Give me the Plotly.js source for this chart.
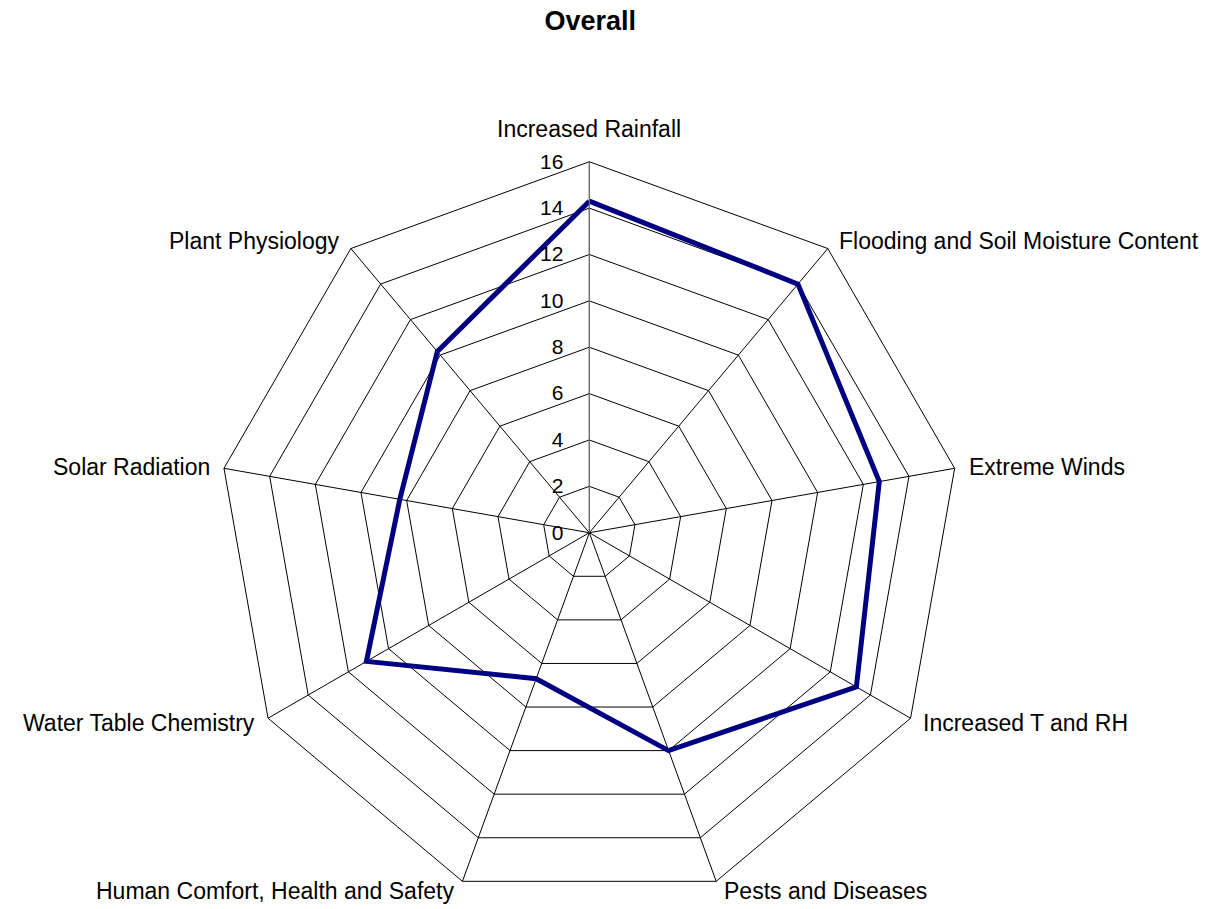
<!DOCTYPE html>
<html>
<head>
<meta charset="utf-8">
<script src="https://cdn.plot.ly/plotly-3.0.1.min.js"></script>
<style>html,body{margin:0;padding:0;background:#fff;}#chart{width:1207px;height:909px;}</style>
</head>
<body>
<div id="chart"></div>
<script>
const categories = ["Increased Rainfall", "Flooding and Soil Moisture Content", "Extreme Winds", "Increased T and RH", "Pests and Diseases", "Human Comfort, Health and Safety", "Water Table Chemistry", "Solar Radiation", "Plant Physiology"];
const overall = [14.3, 14.0, 12.7, 13.3, 10.0, 6.7, 11.1, 8.3, 10.2];
const radialTicks = [0, 2, 4, 6, 8, 10, 12, 14, 16];

const W = 1207, H = 909;
const domX = [0.1809, 0.7956], domY = [0.0058, 0.8221];

const trace = {
  type: 'scatterpolar',
  r: overall.concat([overall[0]]),
  theta: categories.concat([categories[0]]),
  mode: 'lines',
  line: {color: '#000080', width: 5},
  hoverinfo: 'r+theta',
  showlegend: false
};

// Category labels placed just outside the outer polygon vertices (Excel-style)
const cxP = (domX[0] + domX[1]) / 2, cyP = (domY[0] + domY[1]) / 2;
const Rx = (domX[1] - domX[0]) / 2, Ry = (domY[1] - domY[0]) / 2;
const annotations = categories.map((c, i) => {
  const phi = i * 2 * Math.PI / categories.length;
  const s = Math.sin(phi), co = Math.cos(phi);
  const top = Math.abs(s) < 1e-6;
  return {
    text: c, showarrow: false, xref: 'paper', yref: 'paper',
    x: cxP + Rx * s, y: cyP + Ry * co,
    xanchor: top ? 'center' : (s > 0 ? 'left' : 'right'),
    yanchor: top ? 'bottom' : 'middle',
    xshift: top ? 0 : Math.sign(s) * (3 + 9 * Math.abs(s)),
    yshift: top ? 18 : 10 * co,
    font: {size: 23, color: '#000'}
  };
});

const layout = {
  width: W, height: H,
  margin: {l: 0, r: 0, t: 0, b: 0},
  paper_bgcolor: '#fff',
  font: {family: 'Liberation Sans, Arial, sans-serif', size: 22, color: '#000'},
  title: {text: '<b>Overall</b>', x: 0.489, xanchor: 'center', y: 0.977, yanchor: 'middle', font: {size: 27, color: '#000'}},
  annotations: annotations,
  polar: {
    domain: {x: domX, y: domY},
    gridshape: 'linear',
    bgcolor: '#fff',
    radialaxis: {
      range: [0, 16], tickvals: radialTicks, ticktext: radialTicks.map(String),
      angle: 90, tickangle: 90, side: 'counterclockwise', showline: true, linecolor: '#808080', linewidth: 1,
      gridcolor: '#000', gridwidth: 1, ticks: 'outside', ticklen: 18, tickcolor: 'rgba(0,0,0,0)', tickfont: {size: 21}
    },
    angularaxis: {
      direction: 'clockwise', rotation: 90, showline: true, linecolor: '#000', linewidth: 1,
      gridcolor: '#000', gridwidth: 1, ticks: '', showticklabels: false
    }
  }
};

Plotly.newPlot('chart', [trace], layout, {displayModeBar: false, staticPlot: true});
</script>
</body>
</html>
